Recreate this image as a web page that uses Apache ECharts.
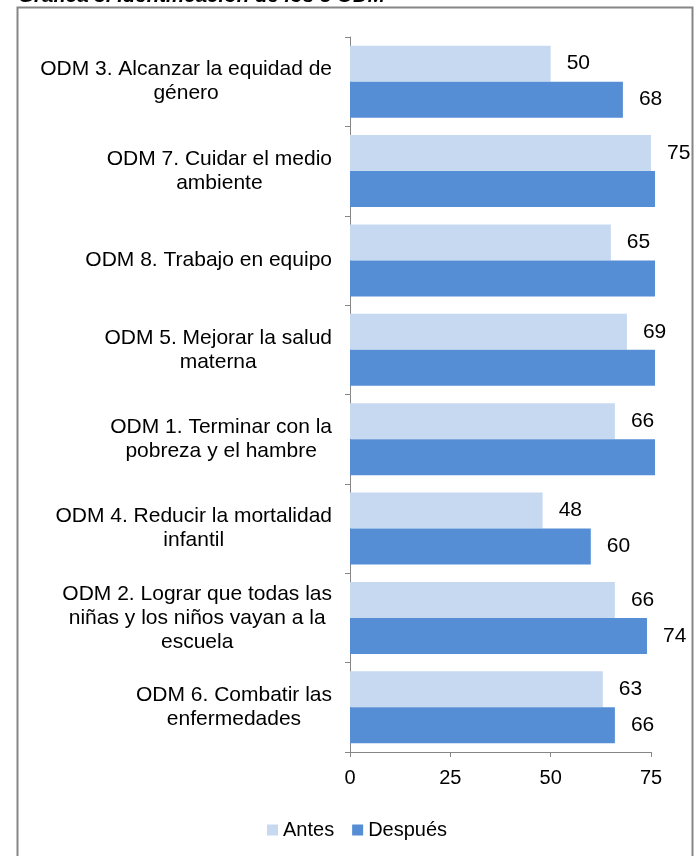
<!DOCTYPE html>
<html>
<head>
<meta charset="utf-8">
<script src="https://cdn.jsdelivr.net/npm/echarts@6/dist/echarts.min.js"></script>
<style>
html,body{margin:0;padding:0;background:#fff;}
#chart{width:700px;height:856px;}
</style>
</head>
<body>
<div id="chart"></div>
<script>
const categories = [
  "ODM 3. Alcanzar la equidad de\ngénero",
  "ODM 7. Cuidar el medio\nambiente",
  "ODM 8. Trabajo en equipo",
  "ODM 5. Mejorar la salud\nmaterna",
  "ODM 1. Terminar con la\npobreza y el hambre",
  "ODM 4. Reducir la mortalidad\ninfantil",
  "ODM 2. Lograr que todas las\nniñas y los niños vayan a la\nescuela",
  "ODM 6. Combatir las\nenfermedades"
];
const antes   = [50, 75, 65, 69, 66, 48, 66, 63];
const despues = [68, 76, 76, 76, 76, 60, 74, 66];
const seriesNames = ["Antes", "Después"];
const xTicks = [0, 25, 50, 75];
const titleBold = "Gráfica 3.";
const titleRest = " Identificación de los 8 ODM";

const FONT = "'Liberation Sans', Arial, sans-serif";
const xMax = xTicks[xTicks.length - 1];
const xInterval = xTicks[1] - xTicks[0];

const chart = echarts.init(document.getElementById('chart'), null, {renderer: 'canvas'});

function labelFmt(p) { return p.value > xMax ? '' : String(p.value); }

const option = {
  backgroundColor: '#ffffff',
  animation: false,
  textStyle: {fontFamily: FONT},
  title: {
    text: '{b|' + titleBold + '}{n|' + titleRest + '}',
    left: 13,
    top: -19,
    textStyle: {
      rich: {
        b: {fontFamily: FONT, fontSize: 20.5, fontWeight: 'bold', fontStyle: 'italic', color: '#000'},
        n: {fontFamily: FONT, fontSize: 20.5, fontStyle: 'italic', color: '#000'}
      }
    }
  },
  graphic: [{
    type: 'rect',
    shape: {x: 17.5, y: 7.5, width: 675, height: 900},
    style: {fill: 'none', stroke: '#868686', lineWidth: 2},
    silent: true
  }],
  legend: {
    data: seriesNames,
    top: 815,
    left: 262,
    itemWidth: 11,
    itemHeight: 11,
    itemGap: 18,
    icon: 'rect',
    textStyle: {fontFamily: FONT, fontSize: 20, color: '#000', padding: [0, 0, 0, 0]}
  },
  grid: {left: 350, right: 49, top: 37, bottom: 104, containLabel: false},
  xAxis: {
    type: 'value',
    min: 0,
    max: xMax,
    interval: xInterval,
    axisLine: {show: true, lineStyle: {color: '#868686', width: 1}},
    axisTick: {show: true, length: 5, lineStyle: {color: '#868686'}},
    splitLine: {show: false},
    axisLabel: {fontFamily: FONT, fontSize: 20, color: '#000', margin: 16}
  },
  yAxis: {
    type: 'category',
    data: categories,
    inverse: true,
    axisLine: {show: true, lineStyle: {color: '#868686', width: 1}},
    axisTick: {show: true, length: 5, lineStyle: {color: '#868686'}},
    axisLabel: {
      fontFamily: FONT, fontSize: 21, color: '#000', margin: 18, lineHeight: 24,
      align: 'right',
      formatter: function (v) {
        return v.split('\n').map(function (l) { return '{c|' + l + '}'; }).join('\n');
      },
      rich: {c: {align: 'center', fontFamily: FONT, fontSize: 21, lineHeight: 24, color: '#000'}}
    }
  },
  series: [
    {
      name: seriesNames[0], type: 'bar', data: antes,
      barGap: '0%', barCategoryGap: '19.5%',
      itemStyle: {color: '#C6D9F1'},
      clip: false,
      label: {show: true, position: 'right', distance: 16, fontFamily: FONT, fontSize: 21, color: '#000', formatter: labelFmt}
    },
    {
      name: seriesNames[1], type: 'bar', data: despues,
      barGap: '0%', barCategoryGap: '19.5%',
      itemStyle: {color: '#558ED5'},
      clip: false,
      label: {show: true, position: 'right', distance: 16, fontFamily: FONT, fontSize: 21, color: '#000', formatter: labelFmt}
    }
  ]
};
chart.setOption(option);
</script>
</body>
</html>
